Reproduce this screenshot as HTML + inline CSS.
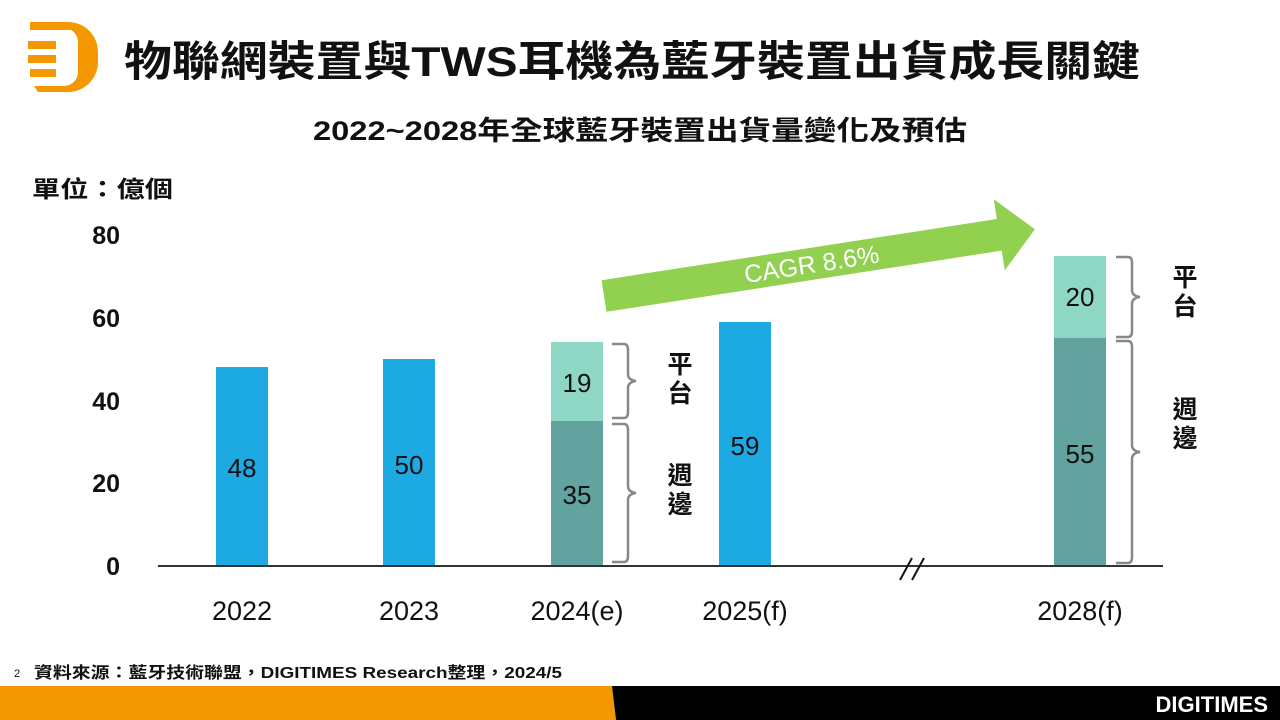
<!DOCTYPE html>
<html><head><meta charset="utf-8"><style>
body{margin:0;width:1280px;height:720px;overflow:hidden;background:#fff;font-family:"Liberation Sans","Noto Sans CJK TC",sans-serif;}
</style></head><body>
<svg width="1280" height="720" viewBox="0 0 1280 720" xmlns="http://www.w3.org/2000/svg" style="position:absolute;left:0;top:0">
<g fill="#F39800">
<path d="M30 22 H68 A30 30 0 0 1 98 52 V62 A30 30 0 0 1 68 92 H38 L34 86 H64 A14 14 0 0 0 78 72 V42 A14 14 0 0 0 64 28 H34 Z"/>
<rect x="28" y="41" width="28" height="8"/>
<rect x="28" y="55" width="28" height="8"/>
<rect x="30" y="69" width="26" height="8"/>
<rect x="30" y="22" width="40" height="8"/>
</g>
<text x="124" y="76" font-size="42" font-weight="bold" fill="#111" textLength="1016" lengthAdjust="spacingAndGlyphs">物聯網裝置與TWS耳機為藍牙裝置出貨成長關鍵</text>
<text x="313" y="140" font-size="27" font-weight="bold" fill="#111" textLength="654" lengthAdjust="spacingAndGlyphs">2022~2028年全球藍牙裝置出貨量變化及預估</text>
<text x="32" y="197" font-size="23" font-weight="bold" fill="#111" textLength="141" lengthAdjust="spacingAndGlyphs">單位：億個</text>
<g font-size="25" font-weight="bold" fill="#111" text-anchor="end">
<text x="120" y="244">80</text><text x="120" y="327">60</text><text x="120" y="410">40</text><text x="120" y="492">20</text><text x="120" y="575">0</text>
</g>
<rect x="216" y="367" width="52" height="199" fill="#1DAAE2"/>
<rect x="383" y="359" width="52" height="207" fill="#1DAAE2"/>
<rect x="551" y="421" width="52" height="145" fill="#62A39F"/>
<rect x="551" y="342" width="52" height="79" fill="#8DD7C4"/>
<rect x="719" y="322" width="52" height="244" fill="#1DAAE2"/>
<rect x="1054" y="338" width="52" height="228" fill="#62A39F"/>
<rect x="1054" y="256" width="52" height="82" fill="#8DD7C4"/>
<line x1="158" y1="566" x2="1163" y2="566" stroke="#333" stroke-width="2"/>
<g stroke="#111" stroke-width="2"><line x1="900" y1="580" x2="912" y2="558"/><line x1="912" y1="580" x2="924" y2="558"/></g>
<g font-size="26" fill="#111" text-anchor="middle">
<text x="242" y="477">48</text><text x="409" y="474">50</text><text x="577" y="392">19</text><text x="577" y="504">35</text><text x="745" y="455">59</text><text x="1080" y="306">20</text><text x="1080" y="463">55</text>
</g>
<g font-size="27" fill="#111" text-anchor="middle">
<text x="242" y="620">2022</text><text x="409" y="620">2023</text><text x="577" y="620">2024(e)</text><text x="745" y="620">2025(f)</text><text x="1080" y="620">2028(f)</text>
</g>
<g fill="none" stroke="#888" stroke-width="2.5">
<path d="M612 344 H624 Q628 344 628 350 V374 Q628 380 636 381 Q628 382 628 388 V412 Q628 418 624 418 H612"/>
<path d="M612 424 H624 Q628 424 628 430 V486 Q628 492 636 493 Q628 494 628 500 V556 Q628 562 624 562 H612"/>
<path d="M1116 257 H1128 Q1132 257 1132 263 V290 Q1132 296 1140 297 Q1132 298 1132 304 V331 Q1132 337 1128 337 H1116"/>
<path d="M1116 341 H1128 Q1132 341 1132 347 V445 Q1132 451 1140 452 Q1132 453 1132 459 V557 Q1132 563 1128 563 H1116"/>
</g>
<g font-size="25" font-weight="bold" fill="#111" text-anchor="middle">
<text x="680" y="373">平</text><text x="680" y="402">台</text>
<text x="680" y="484">週</text><text x="680" y="513">邊</text>
<text x="1185" y="286">平</text><text x="1185" y="315">台</text>
<text x="1185" y="418">週</text><text x="1185" y="447">邊</text>
</g>
<g transform="translate(604,296) rotate(-8.8)">
<polygon points="0,-16 400,-16 400,-36 436,0 400,36 400,16 0,16" fill="#92D050"/>
<text x="210" y="9" font-size="25" fill="#fff" text-anchor="middle">CAGR 8.6%</text>
</g>
<text x="14" y="677" font-size="11" fill="#111">2</text>
<text x="34" y="678" font-size="16" font-weight="bold" fill="#111" textLength="528" lengthAdjust="spacingAndGlyphs">資料來源：藍牙技術聯盟，DIGITIMES Research整理，2024/5</text>
<polygon points="0,686 612,686 616,720 0,720" fill="#F39800"/>
<polygon points="612,686 1280,686 1280,720 616,720" fill="#000"/>
<text x="1268" y="712" font-size="22" font-weight="bold" fill="#fff" text-anchor="end">DIGITIMES</text>
</svg>
</body></html>
